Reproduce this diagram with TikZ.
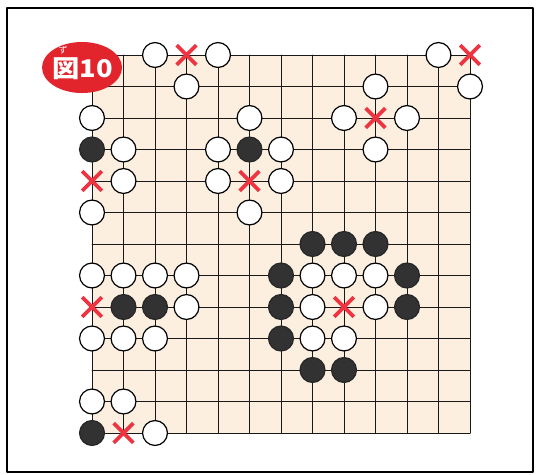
\documentclass[tikz,border=0pt]{standalone}
\usepackage{fontspec}
\newfontfamily\jpfont{Noto Sans CJK JP}
\usetikzlibrary{shapes.misc,shapes.geometric}
\definecolor{boardtan}{RGB}{252,239,224}
\definecolor{markred}{RGB}{238,52,64}
\definecolor{tagred}{RGB}{226,36,44}
\definecolor{stoneblk}{RGB}{50,50,50}
\tikzset{
  wst/.style={circle, draw, fill=white, line width=1.1pt, minimum size=0.79cm, inner sep=0pt},
  bst/.style={circle, draw=black!85, fill=stoneblk, line width=1.1pt, minimum size=0.79cm, inner sep=0pt},
  xmk/.style={cross out, draw=markred, line width=3.4pt, line cap=butt, minimum size=0.5cm, inner sep=0pt},
  gridln/.style={line width=0.9pt, black!90},
  every picture/.style={line cap=round, line join=round}
}

\begin{document}
\begin{tikzpicture}[x=1cm, y=-1cm]
  \useasboundingbox (-2.921,-1.746) rectangle (14.127,13.333);
  \draw[line width=2pt] (-2.70,-1.49) rectangle (14.0,13.24);

  \fill[boardtan] (0,0) rectangle (12,12);
  \foreach \k in {0,...,12} {
    \draw[gridln] (\k,0) -- (\k,12);
    \draw[gridln] (0,\k) -- (12,\k);
  }

  \foreach \c/\r in {2/0,4/0,3/1,11/0,12/1,9/1,8/2,10/2,9/3,
                     0/2,1/3,1/4,0/5,5/2,4/3,6/3,4/4,6/4,5/5,
                     0/7,1/7,2/7,3/7,7/7,8/7,9/7,3/8,7/8,9/8,
                     0/9,1/9,2/9,7/9,8/9,0/11,1/11,2/12}
    \node[wst] (w\c-\r) at (\c,\r) {};

  \foreach \c/\r in {0/3,5/3,7/6,8/6,9/6,6/7,10/7,1/8,2/8,
                     6/8,10/8,6/9,7/10,8/10,0/12}
    \node[bst] (b\c-\r) at (\c,\r) {};

  \foreach \c/\r in {3/0,12/0,9/2,0/4,5/4,0/8,8/8,1/12}
    \node[xmk] (x\c-\r) at (\c,\r) {};

  \node[ellipse, fill=tagred, minimum width=2.54cm, minimum height=1.62cm] (tag) at (-0.317,0.397) {};
  \node[text=white, font=\jpfont\bfseries\fontsize{22}{22}\selectfont, transform shape, xscale=1.12] (tagtxt) at (-0.30,0.42) {図10};
  \node[text=white, font=\jpfont\fontsize{8}{8}\selectfont] (ruby) at (-0.92,-0.17) {ず};
\end{tikzpicture}
\end{document}
